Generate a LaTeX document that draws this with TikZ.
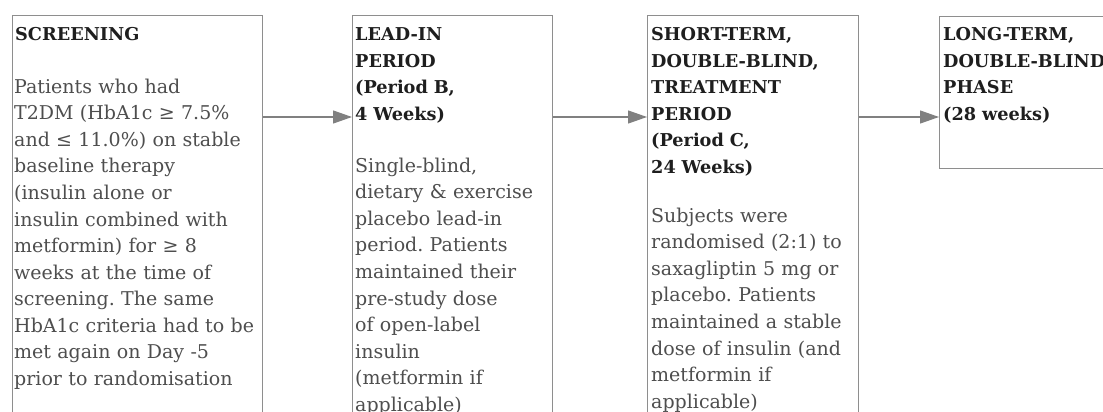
\documentclass[tikz,border=0pt]{standalone}
\usepackage{fontspec}
\setmainfont{DejaVu Serif}
\usetikzlibrary{arrows.meta}
\definecolor{boxc}{HTML}{8E8E8E}
\definecolor{hdrc}{HTML}{1E1E1E}
\definecolor{bodyc}{HTML}{4E4E4E}
\definecolor{arrc}{HTML}{808080}
\frenchspacing
\begin{document}
\begin{tikzpicture}[x=1pt,y=-1pt,
  box/.style={draw=boxc, line width=1.4pt, anchor=north west, inner sep=0pt, minimum width=#1},
  hdr/.style={anchor=base west, inner sep=0pt, text width=300pt, align=left,
    font=\fontsize{17.7}{26.5}\selectfont\bfseries, text=hdrc},
  bodytxt/.style={anchor=base west, inner sep=0pt, text width=300pt, align=left,
    font=\fontsize{19}{26.6}\selectfont, text=bodyc},
  arr/.style={draw=arrc, line width=1.2pt, -{Triangle[length=19pt,width=13pt]}}]
\useasboundingbox (0,0) rectangle (1103,412);
\clip (0,0) rectangle (1103,412);
\fill[white] (0,0) rectangle (1103,412);
% boxes
\node[box=250pt, minimum height=440pt] (b1) at (12,15) {};
\node[box=200pt, minimum height=440pt] (b2) at (352,15) {};
\node[box=211pt, minimum height=440pt] (b3) at (647,15) {};
\node[box=200pt, minimum height=152pt] (b4) at (939,16) {};
% texts
\node[hdr] (h1) at (15,41) {SCREENING};
\node[bodytxt] (p1) at (14,93) {Patients who had\\
T2DM (HbA1c ≥ 7.5\%\\
and ≤ 11.0\%) on stable\\
baseline therapy\\
(insulin alone or\\
insulin combined with\\
metformin) for ≥ 8\\
weeks at the time of\\
screening. The same\\
HbA1c criteria had to be\\
met again on Day -5\\
prior to randomisation};
\node[hdr] (h2) at (355,41) {LEAD-IN\\PERIOD\\(Period B,\\4 Weeks)};
\node[bodytxt] (p2) at (355,172) {Single-blind,\\
dietary \& exercise\\
placebo lead-in\\
period. Patients\\
maintained their\\
pre-study dose\\
of open-label\\
insulin\\
(metformin if\\
applicable)};
\node[hdr] (h3) at (651,41) {SHORT-TERM,\\DOUBLE-BLIND,\\TREATMENT\\PERIOD\\(Period C,\\24 Weeks)};
\node[bodytxt] (p3) at (651,222) {Subjects were\\
randomised (2:1) to\\
saxagliptin 5 mg or\\
placebo. Patients\\
maintained a stable\\
dose of insulin (and\\
metformin if\\
applicable)};
\node[hdr] (h4) at (943,41) {LONG-TERM,\\DOUBLE-BLIND\\PHASE\\(28 weeks)};
% connectors
\coordinate (lvl) at (0,117);
\draw[arr] (b1.east |- lvl) -- (b2.west |- lvl);
\draw[arr] (b2.east |- lvl) -- (b3.west |- lvl);
\draw[arr] (b3.east |- lvl) -- (b4.west |- lvl);
\end{tikzpicture}
\end{document}
